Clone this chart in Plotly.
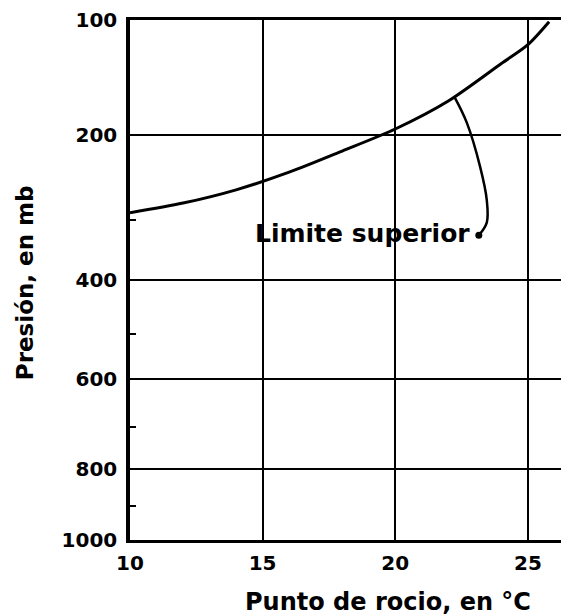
import numpy as np
import plotly.graph_objects as go

# --- data ---
dew_point = [10, 12, 14, 16, 18, 20, 22, 24, 25, 25.8]          # °C
pressure = [290, 277, 260, 239, 216, 193, 163, 130, 116, 101]  # mb

x_ticks = [10, 15, 20, 25]
y_ticks = [100, 200, 400, 600, 800, 1000]
y_minor = [300, 500, 700, 900]

label_text = "Limite superior"
label_dew, label_pres = 18.75, 320
leader_dew = [22.25, 22.7, 23.2, 23.45, 23.45, 23.15]
leader_pres = [160, 186, 233, 273, 304, 323]

# pressure scale of the original diagram (position of each gridline, 0 = top, 1 = bottom)
SCALE_P = [100, 200, 400, 600, 800, 1000]
SCALE_F = [0.0, 0.221, 0.5, 0.690, 0.863, 1.0]


def scale_p(p):
    return np.interp(np.log10(np.asarray(p, dtype=float)), np.log10(SCALE_P), SCALE_F)


FONT = "DejaVu Sans"

fig = go.Figure()
fig.add_trace(go.Scatter(
    x=dew_point, y=scale_p(pressure), mode="lines",
    line=dict(color="black", width=3, shape="spline", smoothing=0.8),
    showlegend=False, hoverinfo="skip"))
fig.add_trace(go.Scatter(
    x=leader_dew, y=scale_p(leader_pres), mode="lines",
    line=dict(color="black", width=2.5, shape="spline"),
    showlegend=False, hoverinfo="skip"))
fig.add_trace(go.Scatter(
    x=[leader_dew[-1]], y=scale_p([leader_pres[-1]]), mode="markers",
    marker=dict(color="black", size=7),
    showlegend=False, hoverinfo="skip"))

fig.add_annotation(x=label_dew, y=float(scale_p([label_pres])[0]), xref="x", yref="y",
                   text=label_text, showarrow=False, xanchor="center", yanchor="middle",
                   font=dict(family=FONT, size=25, color="black", weight="bold"))

fig.add_annotation(x=-0.239, y=0.494, xref="paper", yref="paper",
                   text="Presión, en mb", textangle=-90, showarrow=False,
                   xanchor="center", yanchor="middle",
                   font=dict(family=FONT, size=23, color="black", weight="bold"))
fig.add_annotation(x=0.588, y=-0.119, xref="paper", yref="paper",
                   text="Punto de rocio, en °C", showarrow=False,
                   xanchor="center", yanchor="middle",
                   font=dict(family=FONT, size=24, color="black", weight="bold"))

fig.update_layout(
    width=569, height=616,
    margin=dict(l=122, r=8, t=12, b=84, autoexpand=False),
    paper_bgcolor="white", plot_bgcolor="white",
    showlegend=False,
    xaxis=dict(
        range=[10, 26.55], tickmode="array", tickvals=x_ticks,
        ticktext=[str(v) for v in x_ticks], automargin=False,
        showgrid=True, gridcolor="black", gridwidth=2,
        showline=True, linecolor="black", linewidth=3, mirror=True,
        ticks="", zeroline=False, ticklabelstandoff=3,
        tickfont=dict(family=FONT, size=20, color="black", weight="bold"),
    ),
    yaxis=dict(
        range=[1, 0], tickmode="array", tickvals=scale_p(y_ticks).tolist(),
        ticktext=[str(v) for v in y_ticks], automargin=False,
        showgrid=True, gridcolor="black", gridwidth=2,
        showline=True, linecolor="black", linewidth=3.5, mirror=False,
        ticks="", zeroline=False, ticklabelstandoff=5,
        tickfont=dict(family=FONT, size=20, color="black", weight="bold"),
        minor=dict(tickmode="array", tickvals=scale_p(y_minor).tolist(),
                   ticks="inside", ticklen=6, tickwidth=2, tickcolor="black",
                   showgrid=False),
    ),
)

fig.write_html("out.html")
